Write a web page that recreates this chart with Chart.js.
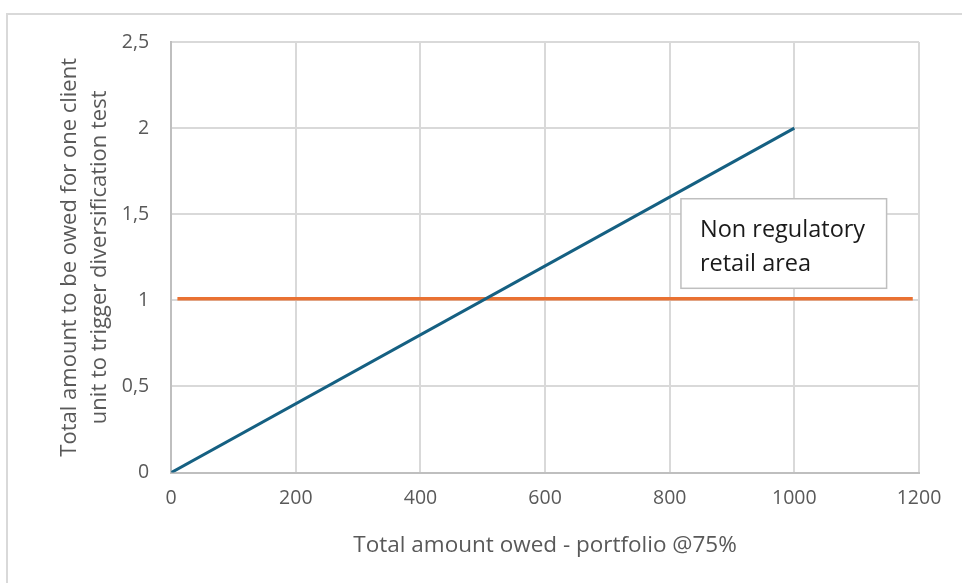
<!DOCTYPE html>
<html>
<head>
<meta charset="utf-8">
<script src="https://cdn.jsdelivr.net/npm/chart.js@4/dist/chart.umd.min.js"></script>
<style>
  html, body { margin: 0; padding: 0; background: #ffffff; }
  #wrap { position: relative; width: 962px; height: 583px; }
</style>
</head>
<body>
<div id="wrap"><canvas id="c" width="962" height="583"></canvas></div>
<script>
// Axis ticks
const xTicks = [0, 200, 400, 600, 800, 1000, 1200];
const yTicks = [0, 0.5, 1, 1.5, 2, 2.5];

// Diversification threshold line: amount owed per client vs portfolio size
const portfolioX = [0, 1000];
const thresholdY = [0, 2];

// Non-regulatory retail limit
const retailX = [10, 1190];
const retailY = [1.01, 1.01];

// Label box and its extent in data units
const boxLines = ['Non regulatory', 'retail area'];
const boxX = [818, 1148];
const boxY = [1.07, 1.59];

const toPoints = (xs, ys) => xs.map((x, i) => ({ x: x, y: ys[i] }));

const frame = {
  id: 'frame',
  beforeDraw(chart) {
    const ctx = chart.ctx;
    ctx.save();
    ctx.fillStyle = '#ffffff';
    ctx.fillRect(0, 0, chart.width, chart.height);
    ctx.strokeStyle = '#d9d9d9';
    ctx.lineWidth = 2;
    ctx.strokeRect(7, 14, chart.width + 10, chart.height + 10);
    ctx.restore();
  }
};

const labelBox = {
  id: 'labelBox',
  afterDatasetsDraw(chart) {
    const xs = chart.scales.x, ys = chart.scales.y, ctx = chart.ctx;
    const l = xs.getPixelForValue(boxX[0]), r = xs.getPixelForValue(boxX[1]);
    const t = ys.getPixelForValue(boxY[1]), b = ys.getPixelForValue(boxY[0]);
    ctx.save();
    ctx.fillStyle = '#ffffff';
    ctx.fillRect(l, t, r - l, b - t);
    ctx.strokeStyle = '#bfbfbf';
    ctx.lineWidth = 1.5;
    ctx.strokeRect(l, t, r - l, b - t);
    ctx.fillStyle = '#1a1a1a';
    ctx.font = '23.5px "Open Sans", sans-serif';
    ctx.textBaseline = 'alphabetic';
    ctx.fillText(boxLines[0], l + 19, t + 38);
    ctx.fillText(boxLines[1], l + 19, t + 72);
    ctx.restore();
  }
};

const tickFont = { family: '"Open Sans", sans-serif', size: 19.5 };

new Chart(document.getElementById('c'), {
  type: 'scatter',
  data: {
    datasets: [
      {
        data: toPoints(portfolioX, thresholdY),
        showLine: true,
        borderColor: '#156082',
        borderWidth: 3,
        pointRadius: 0
      },
      {
        data: toPoints(retailX, retailY),
        showLine: true,
        borderColor: '#e97132',
        borderWidth: 3.5,
        pointRadius: 0
      }
    ]
  },
  options: {
    responsive: false,
    animation: false,
    layout: { padding: { left: 55, top: 42, right: 43, bottom: 24 } },
    plugins: { legend: { display: false }, tooltip: { enabled: false } },
    scales: {
      x: {
        type: 'linear',
        min: xTicks[0],
        max: xTicks[xTicks.length - 1],
        afterBuildTicks: (s) => { s.ticks = xTicks.map(v => ({ value: v })); },
        grid: { color: '#d9d9d9', lineWidth: 2, drawTicks: false },
        border: { color: '#bfbfbf', width: 2 },
        ticks: {
          color: '#595959',
          font: tickFont,
          padding: 14,
          maxRotation: 0,
          callback: (v) => String(v)
        },
        title: {
          display: true,
          text: 'Total amount owed - portfolio @75%',
          color: '#595959',
          font: { family: '"Open Sans", sans-serif', size: 22.5 },
          padding: { top: 8, bottom: 0 }
        }
      },
      y: {
        type: 'linear',
        min: yTicks[0],
        max: yTicks[yTicks.length - 1],
        afterBuildTicks: (s) => { s.ticks = yTicks.map(v => ({ value: v })); },
        grid: { color: '#d9d9d9', lineWidth: 2, drawTicks: false },
        border: { color: '#bfbfbf', width: 2 },
        ticks: {
          color: '#595959',
          font: tickFont,
          padding: 22,
          callback: (v) => String(v).replace('.', ',')
        },
        title: {
          display: true,
          text: ['Total amount to be owed for one client', 'unit to trigger diversification test'],
          color: '#595959',
          font: { family: '"Open Sans", sans-serif', size: 22, lineHeight: 1.36 },
          padding: { top: 0, bottom: -15 }
        }
      }
    }
  },
  plugins: [frame, labelBox]
});
</script>
</body>
</html>
